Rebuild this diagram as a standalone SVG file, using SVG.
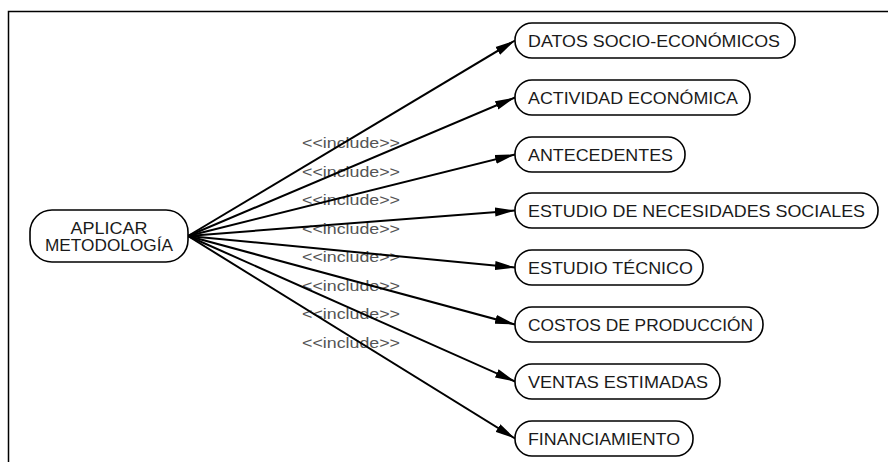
<svg xmlns="http://www.w3.org/2000/svg" width="888" height="462" viewBox="0 0 888 462">
<style>
.node{fill:#fff;stroke:#000;stroke-width:1.6}
.t{font-family:"Liberation Sans",Arial,sans-serif;font-size:16.5px;fill:#1a1a1a}
.lbl{font-family:"Liberation Sans",Arial,sans-serif;font-size:14px;fill:#555}
.edge{stroke:#000;stroke-width:2;fill:none;marker-end:url(#arr)}
</style>
<defs>
<marker id="arr" markerUnits="userSpaceOnUse" markerWidth="20" markerHeight="10" refX="20" refY="5" orient="auto">
<path d="M0,0.5 L20,5 L0,9.5 z" fill="#000"/>
</marker>
</defs>
<rect width="888" height="462" fill="#fff"/>
<path d="M8.5,462 V11.5 H888" fill="none" stroke="#000" stroke-width="1.5"/>
<g id="labels">
<text class="lbl" x="302" y="148" textLength="98" lengthAdjust="spacingAndGlyphs">&lt;&lt;include&gt;&gt;</text>
<text class="lbl" x="302" y="176.5" textLength="98" lengthAdjust="spacingAndGlyphs">&lt;&lt;include&gt;&gt;</text>
<text class="lbl" x="302" y="205" textLength="98" lengthAdjust="spacingAndGlyphs">&lt;&lt;include&gt;&gt;</text>
<text class="lbl" x="302" y="233.5" textLength="98" lengthAdjust="spacingAndGlyphs">&lt;&lt;include&gt;&gt;</text>
<text class="lbl" x="302" y="262" textLength="98" lengthAdjust="spacingAndGlyphs">&lt;&lt;include&gt;&gt;</text>
<text class="lbl" x="302" y="290.5" textLength="98" lengthAdjust="spacingAndGlyphs">&lt;&lt;include&gt;&gt;</text>
<text class="lbl" x="302" y="319" textLength="98" lengthAdjust="spacingAndGlyphs">&lt;&lt;include&gt;&gt;</text>
<text class="lbl" x="302" y="347.5" textLength="98" lengthAdjust="spacingAndGlyphs">&lt;&lt;include&gt;&gt;</text>
</g>
<g id="connectors">
<line class="edge" x1="188" y1="236" x2="515" y2="40.5"/>
<line class="edge" x1="188" y1="236" x2="515" y2="97.5"/>
<line class="edge" x1="188" y1="236" x2="515" y2="154.5"/>
<line class="edge" x1="188" y1="236" x2="515" y2="210.5"/>
<line class="edge" x1="188" y1="236" x2="515" y2="267.5"/>
<line class="edge" x1="188" y1="236" x2="515" y2="324.5"/>
<line class="edge" x1="188" y1="236" x2="515" y2="381.5"/>
<line class="edge" x1="188" y1="236" x2="515" y2="438.5"/>
</g>
<g id="aplicar">
<rect class="node" x="30" y="210" width="158" height="52" rx="22" ry="22"/>
<text class="t" x="109" y="234" text-anchor="middle" textLength="77" lengthAdjust="spacingAndGlyphs">APLICAR</text>
<text class="t" x="109" y="251" text-anchor="middle" textLength="128" lengthAdjust="spacingAndGlyphs">METODOLOGÍA</text>
</g>
<g id="datos">
<rect class="node" x="515" y="23" width="280" height="35" rx="17" ry="17"/>
<text class="t" x="528" y="47" textLength="252" lengthAdjust="spacingAndGlyphs">DATOS SOCIO-ECONÓMICOS</text>
</g>
<g id="actividad">
<rect class="node" x="515" y="80" width="235" height="35" rx="17" ry="17"/>
<text class="t" x="528" y="104" textLength="210" lengthAdjust="spacingAndGlyphs">ACTIVIDAD ECONÓMICA</text>
</g>
<g id="antecedentes">
<rect class="node" x="515" y="137" width="170" height="35" rx="17" ry="17"/>
<text class="t" x="528" y="161" textLength="145" lengthAdjust="spacingAndGlyphs">ANTECEDENTES</text>
</g>
<g id="necesidades">
<rect class="node" x="515" y="193" width="363" height="35" rx="17" ry="17"/>
<text class="t" x="528" y="217" textLength="337" lengthAdjust="spacingAndGlyphs">ESTUDIO DE NECESIDADES SOCIALES</text>
</g>
<g id="tecnico">
<rect class="node" x="515" y="250" width="188" height="35" rx="17" ry="17"/>
<text class="t" x="528" y="274" textLength="165" lengthAdjust="spacingAndGlyphs">ESTUDIO TÉCNICO</text>
</g>
<g id="costos">
<rect class="node" x="515" y="307" width="248" height="35" rx="17" ry="17"/>
<text class="t" x="528" y="331" textLength="225" lengthAdjust="spacingAndGlyphs">COSTOS DE PRODUCCIÓN</text>
</g>
<g id="ventas">
<rect class="node" x="515" y="364" width="205" height="35" rx="17" ry="17"/>
<text class="t" x="528" y="388" textLength="180" lengthAdjust="spacingAndGlyphs">VENTAS ESTIMADAS</text>
</g>
<g id="financiamiento">
<rect class="node" x="515" y="421" width="178" height="35" rx="17" ry="17"/>
<text class="t" x="528" y="445" textLength="152" lengthAdjust="spacingAndGlyphs">FINANCIAMIENTO</text>
</g>
</svg>
